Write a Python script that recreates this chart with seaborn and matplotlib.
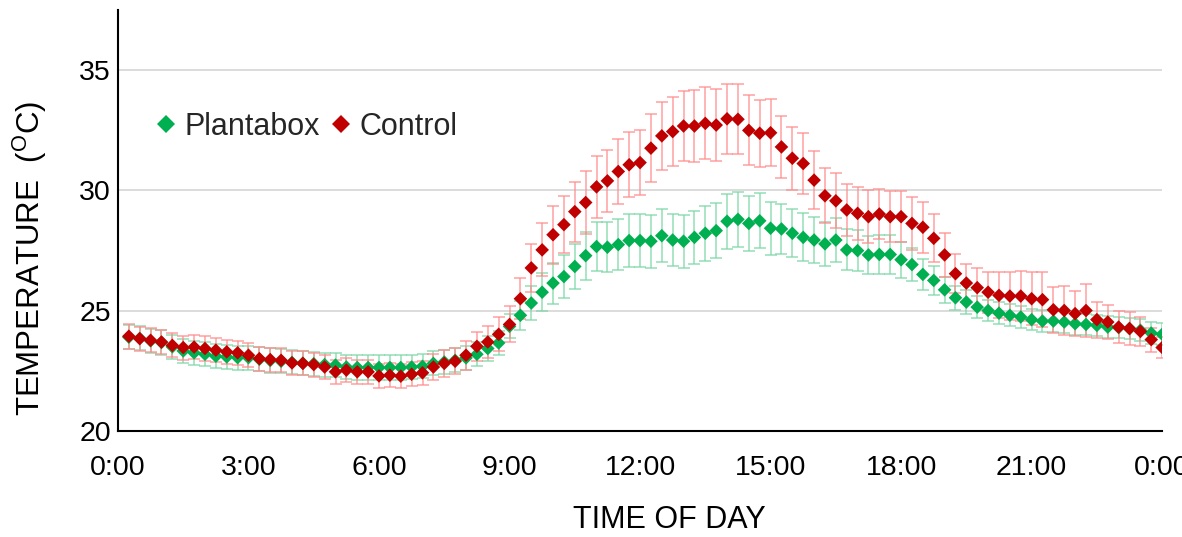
import matplotlib
matplotlib.use("Agg")
import matplotlib.pyplot as plt
import numpy as np
import pandas as pd
import seaborn as sns

# ---------------- data ----------------
hours = [0.25, 0.5, 0.75, 1.0, 1.25, 1.5, 1.75, 2.0, 2.25, 2.5, 2.75, 3.0,
         3.25, 3.5, 3.75, 4.0, 4.25, 4.5, 4.75, 5.0, 5.25, 5.5, 5.75, 6.0,
         6.25, 6.5, 6.75, 7.0, 7.25, 7.5, 7.75, 8.0, 8.25, 8.5, 8.75, 9.0,
         9.25, 9.5, 9.75, 10.0, 10.25, 10.5, 10.75, 11.0, 11.25, 11.5, 11.75, 12.0,
         12.25, 12.5, 12.75, 13.0, 13.25, 13.5, 13.75, 14.0, 14.25, 14.5, 14.75, 15.0,
         15.25, 15.5, 15.75, 16.0, 16.25, 16.5, 16.75, 17.0, 17.25, 17.5, 17.75, 18.0,
         18.25, 18.5, 18.75, 19.0, 19.25, 19.5, 19.75, 20.0, 20.25, 20.5, 20.75, 21.0,
         21.25, 21.5, 21.75, 22.0, 22.25, 22.5, 22.75, 23.0, 23.25, 23.5, 23.75, 24.0]

control = [23.94, 23.84, 23.77, 23.70, 23.56, 23.47, 23.49, 23.43, 23.36, 23.29, 23.25, 23.15,
           23.01, 22.97, 22.94, 22.83, 22.81, 22.76,
           22.66, 22.46, 22.53, 22.46, 22.46, 22.29, 22.32, 22.28, 22.36, 22.42, 22.66, 22.81,
           22.90, 23.15, 23.52, 23.70, 24.02, 24.43, 25.50, 26.78, 27.53,
           28.16, 28.58, 29.12, 29.50, 30.15, 30.40, 30.79, 31.07, 31.16, 31.76, 32.27, 32.45,
           32.68, 32.68, 32.79, 32.72, 32.98, 32.96, 32.50,
           32.38, 32.40, 31.81, 31.34, 31.12, 30.43, 29.78, 29.57, 29.19, 29.05, 28.91, 29.02,
           28.91, 28.91, 28.63, 28.47, 28.01, 27.32, 26.54, 26.15,
           25.96, 25.77, 25.64, 25.61, 25.61, 25.50, 25.46, 25.04, 25.01, 24.88, 25.01, 24.63,
           24.53, 24.32, 24.26, 24.14, 23.80, 23.47]

plantabox = [23.90, 23.85, 23.75, 23.68, 23.50, 23.33, 23.25, 23.19, 23.11, 23.08, 23.05, 23.05,
             22.98, 22.93, 22.90, 22.85, 22.82, 22.80,
             22.76, 22.74, 22.66, 22.64, 22.64, 22.64, 22.64, 22.64, 22.66, 22.69, 22.81, 22.87,
             22.94, 23.04, 23.19, 23.43, 23.66, 24.35, 24.81, 25.32, 25.77,
             26.15, 26.42, 26.84, 27.29, 27.67, 27.64, 27.75, 27.92, 27.92, 27.89, 28.12, 27.94,
             27.89, 28.05, 28.22, 28.33, 28.72, 28.80, 28.63,
             28.74, 28.43, 28.40, 28.22, 28.05, 27.94, 27.78, 27.94, 27.53, 27.50, 27.32, 27.34,
             27.34, 27.12, 26.92, 26.51, 26.26, 25.87, 25.54, 25.36,
             25.15, 25.01, 24.90, 24.81, 24.74, 24.63, 24.57, 24.57, 24.53, 24.46, 24.43, 24.39,
             24.32, 24.30, 24.26, 24.19, 24.07, 24.02]

control_err = [0.52, 0.50, 0.50, 0.50, 0.50, 0.50, 0.50, 0.50, 0.50, 0.50,
               0.50, 0.50, 0.50, 0.50, 0.50, 0.50, 0.50, 0.50, 0.50, 0.50,
               0.50, 0.50, 0.50, 0.50, 0.50, 0.50, 0.50, 0.50, 0.55, 0.55,
               0.55, 0.60, 0.60, 0.65, 0.70, 0.75, 0.85, 1.00, 1.10, 1.20,
               1.20, 1.25, 1.30, 1.30, 1.30, 1.35, 1.35, 1.35, 1.40, 1.40,
               1.45, 1.45, 1.50, 1.50, 1.50, 1.45, 1.45, 1.45, 1.40, 1.40,
               1.30, 1.30, 1.25, 1.20, 1.15, 1.15, 1.10, 1.10, 1.10, 1.05,
               1.05, 1.05, 1.10, 1.05, 1.00, 0.90, 0.80, 0.80, 0.80, 0.85,
               0.95, 1.00, 1.05, 1.10, 1.15, 0.95, 1.00, 0.95, 1.10, 0.75,
               0.70, 0.65, 0.70, 0.60, 0.50, 0.45]

plantabox_err = [0.50, 0.50, 0.50, 0.50, 0.50, 0.50, 0.50, 0.50, 0.50, 0.50,
                 0.50, 0.50, 0.50, 0.50, 0.50, 0.50, 0.50, 0.50, 0.50, 0.50,
                 0.50, 0.50, 0.50, 0.50, 0.50, 0.50, 0.50, 0.50, 0.50, 0.50,
                 0.50, 0.50, 0.50, 0.50, 0.50, 0.50, 0.60, 0.70, 0.80, 0.85,
                 0.90, 0.95, 1.00, 1.00, 1.05, 1.05, 1.10, 1.10, 1.10, 1.10,
                 1.10, 1.10, 1.10, 1.15, 1.15, 1.15, 1.15, 1.15, 1.15, 1.10,
                 1.05, 1.00, 1.00, 0.95, 0.90, 0.90, 0.85, 0.85, 0.80, 0.80,
                 0.80, 0.75, 0.70, 0.65, 0.60, 0.55, 0.50, 0.50, 0.45, 0.45,
                 0.45, 0.45, 0.45, 0.45, 0.45, 0.45, 0.45, 0.45, 0.45, 0.45,
                 0.45, 0.45, 0.45, 0.45, 0.45, 0.45]

series_names = ["Plantabox", "Control"]
x_ticks = [0, 3, 6, 9, 12, 15, 18, 21, 24]
x_labels = ["0:00", "3:00", "6:00", "9:00", "12:00", "15:00", "18:00", "21:00", "0:00"]
y_ticks = [20, 25, 30, 35]

# ---------------- style ----------------
sns.set_theme(style="white")
plt.rcParams["font.family"] = ["Liberation Sans", "DejaVu Sans"]
plt.rcParams["mathtext.fontset"] = "custom"
plt.rcParams["mathtext.rm"] = "Liberation Sans"
plt.rcParams["mathtext.it"] = "Liberation Sans"

marker_colors = {"Plantabox": "#00B050", "Control": "#C00000"}
bar_colors = {"Plantabox": "#7FD6A8", "Control": "#FF8C8C"}

df = pd.DataFrame({
    "time": hours + hours,
    "temp": plantabox + control,
    "err": plantabox_err + control_err,
    "series": ["Plantabox"] * len(hours) + ["Control"] * len(hours),
})

fig = plt.figure(figsize=(11.82, 5.37), dpi=100)
ax = fig.add_axes([0.0998, 0.1974, 0.8834, 0.7838])

# gridlines
ax.set_axisbelow(True)
ax.yaxis.grid(True, color="#D9D9D9", linewidth=1.3)
ax.xaxis.grid(False)

# error bars
for name in series_names:
    sub = df[df["series"] == name]
    ax.errorbar(sub["time"], sub["temp"], yerr=sub["err"], fmt="none",
                ecolor=bar_colors[name], elinewidth=1.3, capsize=4, capthick=1.3,
                alpha=0.7, zorder=2)

# markers
sns.scatterplot(data=df, x="time", y="temp", hue="series", hue_order=series_names,
                palette=marker_colors, marker="D", s=48, edgecolor="none",
                linewidth=0, ax=ax, zorder=3)

ax.set_xlim(0, 24)
ax.set_ylim(20, 37.5)
ax.set_xticks(x_ticks)
ax.set_xticklabels(x_labels)
ax.set_yticks(y_ticks)
ax.tick_params(axis="x", length=0, pad=17, labelsize=20.5, colors="black")
ax.tick_params(axis="y", length=0, pad=5, labelsize=20.5, colors="black")

for side in ["top", "right"]:
    ax.spines[side].set_visible(False)
for side in ["left", "bottom"]:
    ax.spines[side].set_color("black")
    ax.spines[side].set_linewidth(1.5)

ax.set_xlabel("TIME OF DAY", fontsize=22, color="black")
ax.set_ylabel("TEMPERATURE  ($\\mathregular{^{O}}$C)", fontsize=22.5, color="black")
ax.xaxis.set_label_coords(0.528, -0.175)
ax.yaxis.set_label_coords(-0.066, 0.41)

handles, labels = ax.get_legend_handles_labels()
leg = ax.legend(handles, labels, loc="center left", bbox_to_anchor=(0.036, 0.722),
                ncol=2, frameon=False, fontsize=22, handlelength=0.7,
                handletextpad=0.25, columnspacing=0.35, markerscale=1.3,
                borderaxespad=0, borderpad=0)

fig.savefig("out.png", dpi=100)
